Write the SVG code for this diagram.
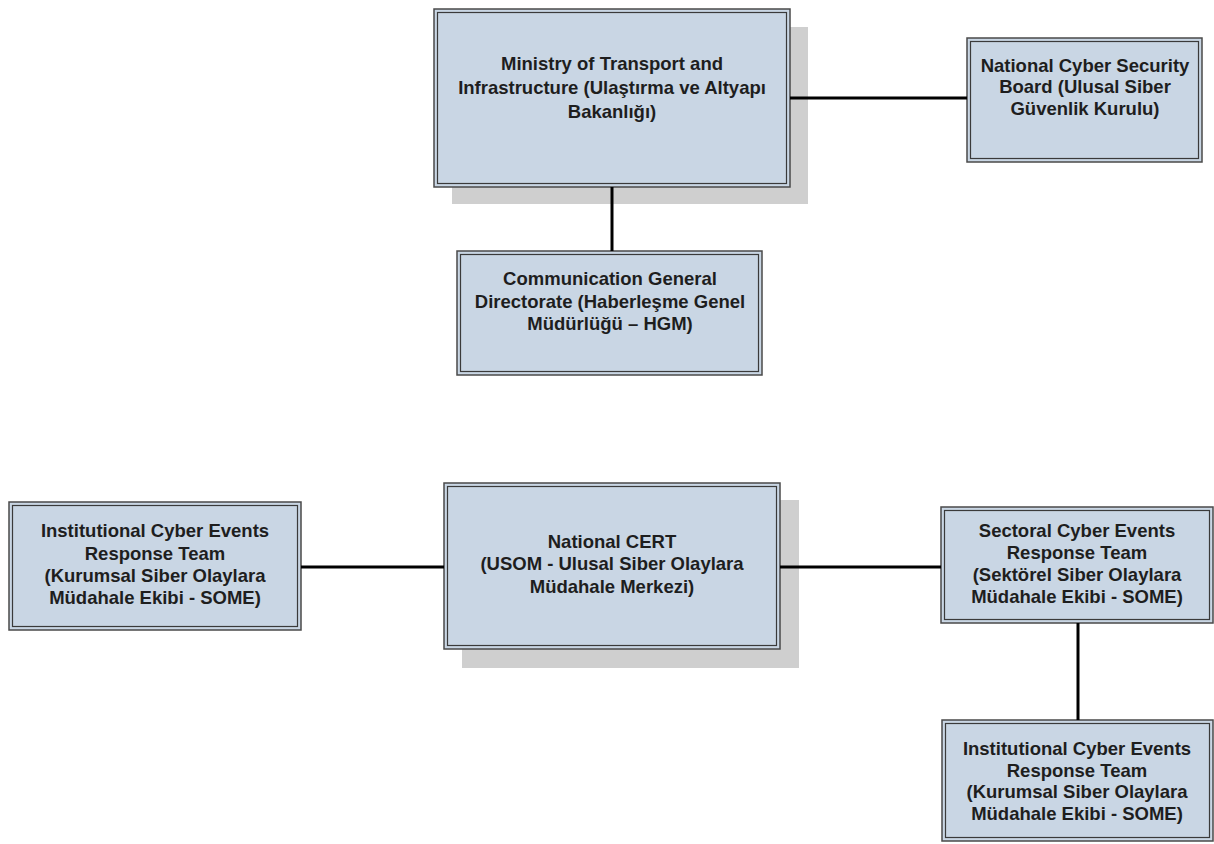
<svg xmlns="http://www.w3.org/2000/svg" width="1214" height="844" viewBox="0 0 1214 844">
<style>
.box{fill:#c9d6e4;stroke:#4a4a4a;stroke-width:1.5}
.inner{fill:none;stroke:#3a3a3a;stroke-width:1.2}
.shadow{fill:#cfcfcf}
.t{font-family:"Liberation Sans",Arial,sans-serif;font-weight:bold;font-size:18.5px;fill:#1e1e1e;text-anchor:middle}
.c{stroke:#000;stroke-width:3;fill:none}
</style>
<rect width="1214" height="844" fill="#fff"/>
<g id="ministry">
<rect class="shadow" x="452" y="27" width="356" height="177"/>
<rect class="box" x="434" y="9" width="356" height="178"/>
<rect class="inner" x="437.5" y="12.5" width="349" height="171"/>
<text class="t" x="612" y="70">Ministry of Transport and</text>
<text class="t" x="612" y="94">Infrastructure (Ulaştırma ve Altyapı</text>
<text class="t" x="612" y="118">Bakanlığı)</text>
</g>
<g id="board">
<rect class="box" x="967" y="38" width="235" height="124"/>
<rect class="inner" x="970.5" y="41.5" width="228" height="117"/>
<text class="t" x="1085" y="72">National Cyber Security</text>
<text class="t" x="1085" y="93">Board (Ulusal Siber</text>
<text class="t" x="1085" y="115">Güvenlik Kurulu)</text>
</g>
<g id="hgm">
<rect class="box" x="457" y="251" width="305" height="124"/>
<rect class="inner" x="460.5" y="254.5" width="298" height="117"/>
<text class="t" x="610" y="285">Communication General</text>
<text class="t" x="610" y="308">Directorate (Haberleşme Genel</text>
<text class="t" x="610" y="330">Müdürlüğü – HGM)</text>
</g>
<g id="some-left">
<rect class="box" x="9" y="502" width="292" height="128"/>
<rect class="inner" x="12.5" y="505.5" width="285" height="121"/>
<text class="t" x="155" y="537">Institutional Cyber Events</text>
<text class="t" x="155" y="560">Response Team</text>
<text class="t" x="155" y="582">(Kurumsal Siber Olaylara</text>
<text class="t" x="155" y="604">Müdahale Ekibi - SOME)</text>
</g>
<g id="usom">
<rect class="shadow" x="462" y="500" width="337" height="168"/>
<rect class="box" x="444" y="483" width="336" height="166"/>
<rect class="inner" x="447.5" y="486.5" width="329" height="159"/>
<text class="t" x="612" y="548">National CERT</text>
<text class="t" x="612" y="570">(USOM - Ulusal Siber Olaylara</text>
<text class="t" x="612" y="593">Müdahale Merkezi)</text>
</g>
<g id="sectoral">
<rect class="box" x="941" y="507" width="272" height="116"/>
<rect class="inner" x="944.5" y="510.5" width="265" height="109"/>
<text class="t" x="1077" y="537">Sectoral Cyber Events</text>
<text class="t" x="1077" y="559">Response Team</text>
<text class="t" x="1077" y="581">(Sektörel Siber Olaylara</text>
<text class="t" x="1077" y="603">Müdahale Ekibi - SOME)</text>
</g>
<g id="some-right">
<rect class="box" x="942" y="720" width="271" height="121"/>
<rect class="inner" x="945.5" y="723.5" width="264" height="114"/>
<text class="t" x="1077" y="755">Institutional Cyber Events</text>
<text class="t" x="1077" y="777">Response Team</text>
<text class="t" x="1077" y="798">(Kurumsal Siber Olaylara</text>
<text class="t" x="1077" y="820">Müdahale Ekibi - SOME)</text>
</g>
<g id="connectors">
<line class="c" x1="790" y1="98" x2="967" y2="98"/>
<line class="c" x1="612" y1="187" x2="612" y2="251"/>
<line class="c" x1="301" y1="567" x2="444" y2="567"/>
<line class="c" x1="780" y1="567" x2="941" y2="567"/>
<line class="c" x1="1078" y1="623" x2="1078" y2="720"/>
</g>
</svg>
